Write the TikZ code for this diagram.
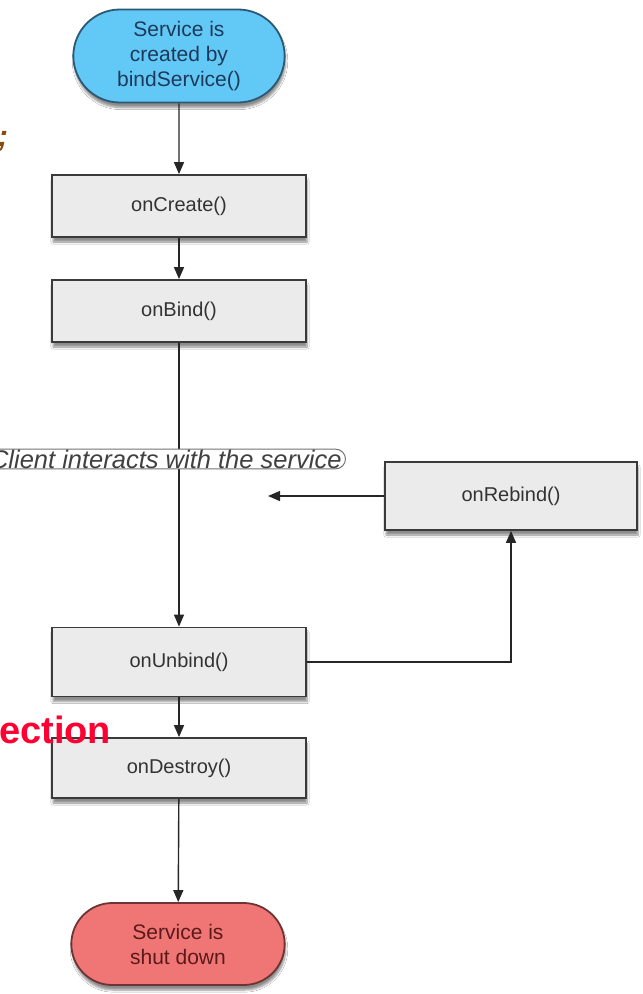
\documentclass[tikz,border=0pt]{standalone}
\usepackage{fontspec}
\setmainfont{Liberation Sans}
\usetikzlibrary{arrows.meta,shapes.misc,shadows.blur}
\definecolor{boxfill}{HTML}{EBEBEB}
\definecolor{boxline}{HTML}{3A3A3A}
\definecolor{boxtext}{HTML}{333333}
\definecolor{startfill}{HTML}{62C8F6}
\definecolor{startline}{HTML}{2B5874}
\definecolor{starttext}{HTML}{1E3A5A}
\definecolor{endfill}{HTML}{F07676}
\definecolor{endline}{HTML}{6E3434}
\definecolor{endtext}{HTML}{5A1A1A}
\definecolor{hotred}{HTML}{FF0033}
\definecolor{brownish}{HTML}{8B4A10}
\tikzset{
  x=1pt, y=1pt,
  sh/.style={blur shadow={shadow xshift=1pt, shadow yshift=-5pt, shadow blur steps=6, shadow opacity=45}},
  stepbox/.style={draw=boxline, line width=1.8pt, fill=boxfill, sh,
    minimum width=254, text=boxtext, font=\fontsize{20}{24}\selectfont},
  termnode/.style={rounded rectangle, line width=1.8pt, sh, align=center,
    font=\fontsize{21}{25}\selectfont},
  flow/.style={draw=black!85, line width=1.4pt, -{Triangle[length=12pt,width=10pt]}},
  note/.style={draw=black!55, line width=1pt, fill=white, rounded corners=10pt,
    inner xsep=4pt, inner ysep=0.5pt, font=\itshape\fontsize{25.5}{25.5}\selectfont, text=black!75}
}
\begin{document}
\begin{tikzpicture}
\useasboundingbox[fill=white] (0,0) rectangle (643,-994);

% lifecycle steps
\node[termnode, fill=startfill, draw=startline, text=starttext,
      minimum width=218, minimum height=93] (start) at (179,-56)
      {Service is\\created by\\bindService()};
\node[stepbox, minimum height=62] (create)  at (179,-206) {onCreate()};
\node[stepbox, minimum height=62] (bind)    at (179,-311) {onBind()};
\node[stepbox, minimum width=252, minimum height=68] (rebind) at (511,-496) {onRebind()};
\node[stepbox, minimum height=69] (unbind)  at (179,-662) {onUnbind()};
\node[stepbox, minimum height=60] (destroy) at (179,-768) {onDestroy()};
\node[termnode, fill=endfill, draw=endline, text=endtext,
      minimum width=220, minimum height=82] (stop) at (178,-944)
      {Service is\\shut down};

\coordinate (back) at (268,-496);

% connectors
\draw[flow] (start) -- (create);
\draw[flow] (create) -- (bind);
\draw[flow] (bind) -- (unbind);
\draw[flow] (rebind.west) -- (back);
\draw[flow] (unbind.east) -| (rebind.south);
\draw[flow] (unbind) -- (destroy);
\draw[flow] (destroy) -- (stop);

% interaction note over the main line
\node[note, anchor=east] (client) at (346,-459) {Client interacts with the service};

% side texts
\node[anchor=base west, inner sep=0, text=brownish,
      font=\bfseries\itshape\fontsize{30}{30}\selectfont] (semi) at (-2,-146) {;};
\node[anchor=base west, inner sep=0, text=hotred,
      font=\bfseries\fontsize{38}{38}\selectfont] (sect) at (-1,-743) {ection};
\end{tikzpicture}
\end{document}
